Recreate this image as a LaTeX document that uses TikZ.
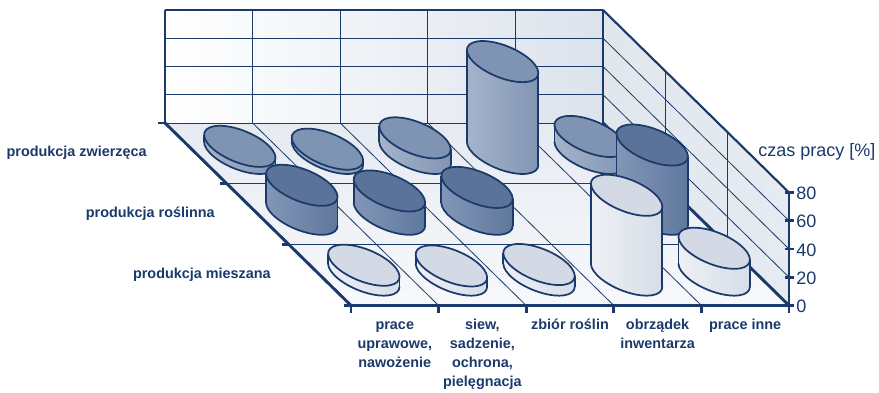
\documentclass[tikz,border=0pt]{standalone}
\usepackage{fontspec}
\setmainfont{Liberation Sans}
\usepackage{tikz}
\definecolor{chartnavy}{HTML}{1A3A6B}
\definecolor{wallblue}{HTML}{DDE3EC}
\definecolor{floorblue}{HTML}{E6EAF1}
\definecolor{sideblue}{HTML}{E2E7EE}
\definecolor{animaltop}{HTML}{7F93B2}
\definecolor{animalside}{HTML}{A7B5CC}
\definecolor{animalsidedark}{HTML}{8094B3}
\definecolor{planttop}{HTML}{5B7399}
\definecolor{plantside}{HTML}{8497B8}
\definecolor{plantsidedark}{HTML}{5F779D}
\definecolor{mixedtop}{HTML}{D3DAE5}
\definecolor{mixedside}{HTML}{EEF1F6}
\definecolor{mixedsidedark}{HTML}{D6DDE7}
\tikzstyle{none}=[inner sep=0pt]
\tikzstyle{edgeline}=[-,draw=chartnavy,line width=1.6pt]
\tikzstyle{heavyline}=[-,draw=chartnavy,line width=2.2pt]
\tikzstyle{gridline}=[-,draw=chartnavy,line width=0.6pt]
\tikzstyle{axistick}=[-,draw=chartnavy,line width=2pt]
\tikzstyle{cylline}=[-,draw=chartnavy,line width=1.3pt]
\tikzstyle{rowlabel}=[inner sep=0pt,text=chartnavy,font=\bfseries\fontsize{10.8}{14.3}\selectfont]
\tikzstyle{catlabel}=[inner sep=0pt,text=chartnavy,align=center,anchor=north,font=\bfseries\fontsize{10.8}{14.3}\selectfont]
\tikzstyle{axislabel}=[inner sep=0pt,text=chartnavy,font=\fontsize{13.5}{16}\selectfont]
% cylinder: x, y of base centre, value in %, top colour, side colours
\newcommand{\barcyl}[6]{%
  \begin{scope}[shift={(#1,#2)}]
    \path [left color=#5, right color=#6]
      (0,0) circle [x radius=28.5pt, y radius=12pt, rotate=-22]
      (-35.74,-11.54) -- (35.74,11.54) -- (35.74,11.54-#3*1.4125) -- (-35.74,-11.54-#3*1.4125) -- cycle;
    \draw [style=cylline, rotate=-22] (189.65:28.5pt and 12pt) arc [start angle=189.65, end angle=369.65, x radius=28.5pt, y radius=12pt];
    \draw [style=cylline] (-35.74,-11.54) -- (-35.74,-11.54-#3*1.4125);
    \draw [style=cylline] (35.74,11.54) -- (35.74,11.54-#3*1.4125);
    \draw [style=cylline, fill=#4] (0,-#3*1.4125) circle [x radius=28.5pt, y radius=12pt, rotate=-22];
  \end{scope}}

\begin{document}
\begin{tikzpicture}[x=0.75pt,y=-0.75pt]
  \useasboundingbox (0,0) rectangle (879,393);
  \node [style=none] (0) at (165, 10) {};
  \node [style=none] (1) at (603, 10) {};
  \node [style=none] (2) at (165, 123) {};
  \node [style=none] (3) at (603, 123) {};
  \node [style=none] (4) at (351, 305.5) {};
  \node [style=none] (5) at (789, 305.5) {};
  \node [style=none] (6) at (789, 192.5) {};
  \node [style=none] (7) at (252.6, 10) {};
  \node [style=none] (8) at (252.6, 123) {};
  \node [style=none] (9) at (340.2, 10) {};
  \node [style=none] (10) at (340.2, 123) {};
  \node [style=none] (11) at (427.8, 10) {};
  \node [style=none] (12) at (427.8, 123) {};
  \node [style=none] (13) at (515.4, 10) {};
  \node [style=none] (14) at (515.4, 123) {};
  \node [style=none] (15) at (165, 38.25) {};
  \node [style=none] (16) at (603, 38.25) {};
  \node [style=none] (17) at (165, 66.5) {};
  \node [style=none] (18) at (603, 66.5) {};
  \node [style=none] (19) at (165, 94.75) {};
  \node [style=none] (20) at (603, 94.75) {};
  \node [style=none] (21) at (789, 220.75) {};
  \node [style=none] (22) at (789, 249) {};
  \node [style=none] (23) at (789, 277.25) {};
  \node [style=none] (24) at (665, 70.83) {};
  \node [style=none] (25) at (665, 183.83) {};
  \node [style=none] (26) at (727, 131.67) {};
  \node [style=none] (27) at (727, 244.67) {};
  \node [style=none] (28) at (438.6, 305.5) {};
  \node [style=none] (29) at (526.2, 305.5) {};
  \node [style=none] (30) at (613.8, 305.5) {};
  \node [style=none] (31) at (701.4, 305.5) {};
  \node [style=none] (32) at (227, 183.83) {};
  \node [style=none] (33) at (289, 244.67) {};
  \node [style=none] (34) at (158, 123) {};
  \node [style=none] (35) at (220, 183.83) {};
  \node [style=none] (36) at (282, 244.67) {};
  \node [style=none] (37) at (344, 305.5) {};
  \node [style=none] (38) at (351, 313) {};
  \node [style=none] (39) at (438.6, 313) {};
  \node [style=none] (40) at (526.2, 313) {};
  \node [style=none] (41) at (613.8, 313) {};
  \node [style=none] (42) at (701.4, 313) {};
  \node [style=none] (43) at (789, 313) {};
  \node [style=none] (44) at (785, 305.5) {};
  \node [style=none] (45) at (794, 305.5) {};
  \node [style=none] (46) at (785, 277.25) {};
  \node [style=none] (47) at (794, 277.25) {};
  \node [style=none] (48) at (785, 249) {};
  \node [style=none] (49) at (794, 249) {};
  \node [style=none] (50) at (785, 220.75) {};
  \node [style=none] (51) at (794, 220.75) {};
  \node [style=none] (52) at (785, 192.5) {};
  \node [style=none] (53) at (794, 192.5) {};
  \node [style=rowlabel, anchor=mid east] (54) at (147, 153) {produkcja zwierzęca};
  \node [style=rowlabel, anchor=mid east] (55) at (215, 213.5) {produkcja roślinna};
  \node [style=rowlabel, anchor=mid east] (56) at (271, 274.5) {produkcja mieszana};
  \node [style=catlabel] (57) at (394.8, 315.5) {\strut prace\\uprawowe,\\nawożenie};
  \node [style=catlabel] (58) at (482.4, 315.5) {\strut siew,\\sadzenie,\\ochrona,\\pielęgnacja};
  \node [style=catlabel] (59) at (570, 315.5) {\strut zbiór roślin};
  \node [style=catlabel] (60) at (657.6, 315.5) {\strut obrządek\\inwentarza};
  \node [style=catlabel] (61) at (745.2, 315.5) {\strut prace inne};
  \node [style=axislabel, anchor=mid west] (62) at (758, 153) {czas pracy [\%]};
  \node [style=axislabel, anchor=west] (63) at (796, 306.5) {0};
  \node [style=axislabel, anchor=west] (64) at (796, 278.25) {20};
  \node [style=axislabel, anchor=west] (65) at (796, 250) {40};
  \node [style=axislabel, anchor=west] (66) at (796, 221.75) {60};
  \node [style=axislabel, anchor=west] (67) at (796, 193.5) {80};
  % walls and floor
  \path [left color=white, right color=wallblue] (0.center) -- (1.center) -- (3.center) -- (2.center) -- cycle;
  \path [left color=sideblue, right color=floorblue] (1.center) -- (6.center) -- (5.center) -- (3.center) -- cycle;
  \path [top color=floorblue, bottom color=white!70!floorblue] (2.center) -- (3.center) -- (5.center) -- (4.center) -- cycle;
  \draw [style=gridline] (7.center) to (8.center);
  \draw [style=gridline] (9.center) to (10.center);
  \draw [style=gridline] (11.center) to (12.center);
  \draw [style=gridline] (13.center) to (14.center);
  \draw [style=gridline] (15.center) to (16.center);
  \draw [style=gridline] (17.center) to (18.center);
  \draw [style=gridline] (19.center) to (20.center);
  \draw [style=gridline] (2.center) to (3.center);
  \draw [style=gridline] (16.center) to (21.center);
  \draw [style=gridline] (18.center) to (22.center);
  \draw [style=gridline] (20.center) to (23.center);
  \draw [style=gridline] (24.center) to (25.center);
  \draw [style=gridline] (26.center) to (27.center);
  \draw [style=gridline] (8.center) to (28.center);
  \draw [style=gridline] (10.center) to (29.center);
  \draw [style=gridline] (12.center) to (30.center);
  \draw [style=gridline] (14.center) to (31.center);
  \draw [style=gridline] (32.center) to (25.center);
  \draw [style=gridline] (33.center) to (27.center);
  \draw [style=edgeline] (2.center) to (0.center);
  \draw [style=edgeline] (0.center) to (1.center);
  \draw [style=edgeline] (1.center) to (3.center);
  \draw [style=edgeline] (1.center) to (6.center);
  \draw [style=heavyline] (2.center) to (4.center);
  \draw [style=heavyline] (4.center) to (5.center);
  \draw [style=heavyline] (3.center) to (5.center);
  \draw [style=heavyline] (5.center) to (6.center);
  % cylinders, back row first
  \barcyl{239.8}{153.4}{5}{animaltop}{animalside}{animalsidedark}
  \barcyl{327.4}{153.4}{3}{animaltop}{animalside}{animalsidedark}
  \barcyl{415}{153.4}{11}{animaltop}{animalside}{animalsidedark}
  \barcyl{502.6}{153.4}{65}{animaltop}{animalside}{animalsidedark}
  \barcyl{590.2}{153.4}{12}{animaltop}{animalside}{animalsidedark}
  \barcyl{301.8}{214.25}{20.5}{planttop}{plantside}{plantsidedark}
  \barcyl{389.4}{214.25}{16.5}{planttop}{plantside}{plantsidedark}
  \barcyl{477}{214.25}{19}{planttop}{plantside}{plantsidedark}
  \barcyl{652.2}{214.25}{49}{planttop}{plantside}{plantsidedark}
  \barcyl{363.8}{275.1}{7}{mixedtop}{mixedside}{mixedsidedark}
  \barcyl{451.4}{275.1}{6.5}{mixedtop}{mixedside}{mixedsidedark}
  \barcyl{539}{275.1}{7.5}{mixedtop}{mixedside}{mixedsidedark}
  \barcyl{626.6}{275.1}{56.5}{mixedtop}{mixedside}{mixedsidedark}
  \barcyl{714.2}{275.1}{19}{mixedtop}{mixedside}{mixedsidedark}
  % ticks
  \draw [style=axistick] (2.center) to (34.center);
  \draw [style=axistick] (32.center) to (35.center);
  \draw [style=axistick] (33.center) to (36.center);
  \draw [style=axistick] (4.center) to (37.center);
  \draw [style=axistick] (4.center) to (38.center);
  \draw [style=axistick] (28.center) to (39.center);
  \draw [style=axistick] (29.center) to (40.center);
  \draw [style=axistick] (30.center) to (41.center);
  \draw [style=axistick] (31.center) to (42.center);
  \draw [style=axistick] (5.center) to (43.center);
  \draw [style=axistick] (44.center) to (45.center);
  \draw [style=axistick] (46.center) to (47.center);
  \draw [style=axistick] (48.center) to (49.center);
  \draw [style=axistick] (50.center) to (51.center);
  \draw [style=axistick] (52.center) to (53.center);
\end{tikzpicture}
\end{document}
